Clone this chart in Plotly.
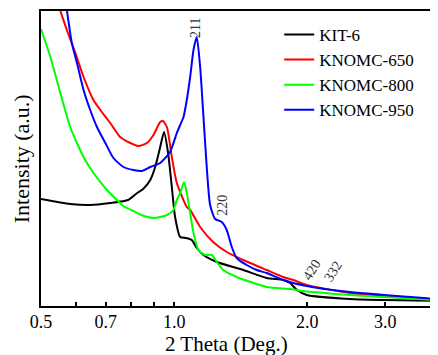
import math
import plotly.graph_objects as go

# ---- data (2 Theta in degrees, intensity in arbitrary units) ----
kit6_x = [0.500, 0.582, 0.646, 0.717, 0.787, 0.825, 0.851, 0.883, 0.906, 0.930, 0.949,
          0.969, 0.988, 1.005, 1.032, 1.064, 1.096, 1.125, 1.165, 1.249, 1.434, 1.619,
          1.765, 1.828, 1.896, 1.994, 2.497, 2.996, 3.920]
kit6_y = [107, 102, 101, 103, 106, 113, 117, 126, 139, 159, 174,
          153, 119, 89, 69, 68, 66, 58, 51, 44, 36, 28,
          26, 23, 16, 11, 7, 6, 5]

k650_x = [0.535, 0.553, 0.572, 0.598, 0.624, 0.657, 0.681, 0.717, 0.755, 0.796, 0.831,
          0.868, 0.898, 0.930, 0.943, 0.963, 0.988, 1.014, 1.068, 1.087, 1.145, 1.225,
          1.315, 1.434, 1.619, 1.765, 1.860, 1.994, 2.497, 3.920]
k650_y = [312, 295, 276, 253, 229, 206, 196, 183, 169, 163, 160,
          163, 171, 184, 185, 179, 149, 123, 99, 96, 79, 64,
          54, 46, 36, 29, 26, 21, 13, 6]

k800_x = [0.500, 0.525, 0.553, 0.582, 0.624, 0.657, 0.705, 0.742, 0.767,
          0.808, 0.838, 0.897, 0.930, 0.963, 0.996, 1.014, 1.032, 1.053, 1.068, 1.087,
          1.106, 1.135, 1.175, 1.217, 1.249, 1.292, 1.385, 1.619, 1.828, 1.959, 2.497, 3.920]
k800_y = [277, 249, 213, 179, 149, 133, 116, 106, 100,
          95, 91.5, 88, 89, 91, 96, 106, 113, 124, 113, 93,
          73, 56, 51, 51, 44, 36, 29, 19, 17, 15, 11, 6]

k950_x = [0.562, 0.572, 0.587, 0.603, 0.624, 0.646, 0.669, 0.699, 0.729, 0.768, 0.809,
          0.845, 0.883, 0.930, 0.979, 1.014, 1.032, 1.050, 1.068, 1.087, 1.106, 1.125,
          1.145, 1.165, 1.185, 1.206, 1.238, 1.281, 1.315, 1.350, 1.385, 1.459, 1.537,
          1.619, 1.765, 1.994, 2.497, 3.920]
k950_y = [320, 296, 263, 243, 216, 196, 179, 163, 148, 139, 136,
          135, 139, 143, 154, 173, 181, 189, 206, 229, 256, 269,
          239, 189, 139, 101, 87, 84, 76, 59, 48, 41, 36,
          33, 26, 20, 14, 7]

series_names = ["KIT-6", "KNOMC-650", "KNOMC-800", "KNOMC-950"]
series_colors = ["#000000", "#ff0000", "#00ff00", "#0000ff"]

tick_vals = [0.5, 0.6, 0.7, 0.8, 0.9, 1.0, 2.0, 3.0]
tick_text = ["0.5", "", "0.7", "", "", "1.0", "2.0", "3.0"]

peak_labels = ["211", "220", "420", "332"]
peak_x = [1.115, 1.281, 2.040, 2.283]
peak_y = [278, 101, 36, 35]
peak_angle = [-90, -90, -58, -58]

FONT = "Liberation Serif"

fig = go.Figure()
for xs, ys, name, col in zip([kit6_x, k650_x, k800_x, k950_x],
                             [kit6_y, k650_y, k800_y, k950_y],
                             series_names, series_colors):
    fig.add_trace(go.Scatter(x=xs, y=ys, mode="lines", name=name,
                             line=dict(color=col, width=2, shape="spline", smoothing=0.6)))

for t, x, y, a in zip(peak_labels, peak_x, peak_y, peak_angle):
    fig.add_annotation(x=math.log10(x), y=y, text=t, textangle=a,
                       showarrow=False, font=dict(family=FONT, size=14, color="#333333"))

fig.add_annotation(xref="paper", yref="paper", x=0.466, y=-0.13, text="2 Theta (Deg.)",
                   showarrow=False, yanchor="middle", xanchor="center",
                   font=dict(family=FONT, size=21, color="black"))
fig.add_annotation(xref="paper", yref="paper", x=-0.0486, y=0.5, text="Intensity (a.u.)",
                   textangle=-90, showarrow=False, yanchor="middle", xanchor="center",
                   font=dict(family=FONT, size=22, color="black"))

# the page body keeps an 8px margin, so the figure is sized to fit the window exactly
fig.update_layout(
    width=430, height=347,
    margin=dict(l=33, r=0, t=3, b=49),
    paper_bgcolor="white", plot_bgcolor="white",
    font=dict(family=FONT, color="black"),
    showlegend=True,
    legend=dict(x=0.6, y=0.98, xanchor="left", yanchor="top",
                font=dict(family=FONT, size=17), bgcolor="rgba(0,0,0,0)",
                tracegroupgap=0, itemwidth=30),
    xaxis=dict(type="log", range=[math.log10(0.5), math.log10(3.95)], automargin=False,
               showline=True, linecolor="black", linewidth=2, mirror=True,
               ticks="inside", ticklen=4, tickwidth=1.5, tickcolor="black",
               tickvals=tick_vals, ticktext=tick_text, ticklabelstandoff=-2,
               tickfont=dict(family=FONT, size=18), showgrid=False, zeroline=False),
    yaxis=dict(range=[0, 295], automargin=False, showline=True, linecolor="black", linewidth=2,
               showticklabels=False, ticks="", showgrid=False, zeroline=False),
)

fig.write_html("out.html")
